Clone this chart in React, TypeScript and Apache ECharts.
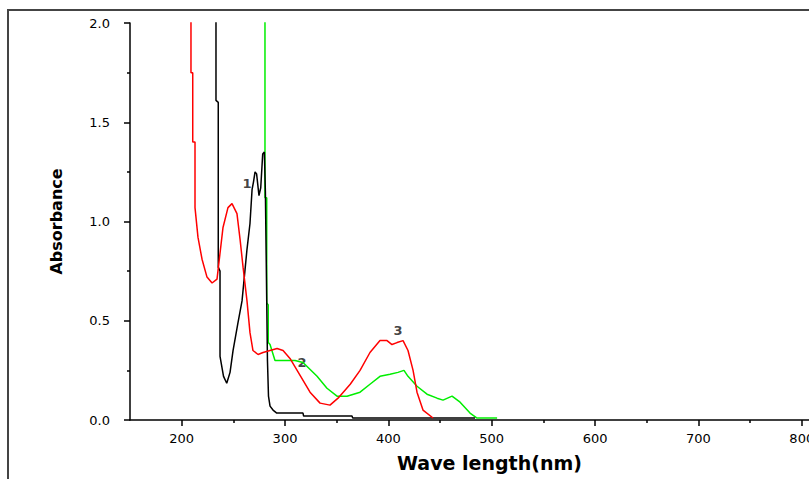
import React, { useEffect, useRef } from "react";
import * as echarts from "echarts";

// Curve 1 (black): [wavelength nm, absorbance]
const curve1: number[][] = [
  [233.2, 2.3], [233.2, 1.61], [235.4, 1.6], [235.4, 0.77], [237.1, 0.75], [237.1, 0.32],
  [240.5, 0.22], [243.6, 0.185], [246.8, 0.24], [249.7, 0.35], [254.5, 0.49], [258.4, 0.6],
  [263.2, 0.86], [266.1, 0.99], [268.1, 1.16], [269.5, 1.2], [271.0, 1.25], [272.5, 1.24],
  [274.8, 1.13], [276.5, 1.17], [278.4, 1.34], [280.0, 1.35], [281.0, 1.15], [282.3, 0.6],
  [283.0, 0.3], [284.0, 0.12], [285.5, 0.07], [288.4, 0.05], [292.0, 0.035], [317.4, 0.035],
  [318.0, 0.02], [364.8, 0.02], [365.5, 0.01], [483.9, 0.01],
];

// Curve 3 (red)
const curve3: number[][] = [
  [209.0, 2.3], [209.0, 1.75], [210.7, 1.75], [210.7, 1.4], [212.9, 1.4], [212.9, 1.07],
  [215.8, 0.92], [219.7, 0.81], [224.5, 0.72], [229.4, 0.69], [234.2, 0.71], [237.1, 0.84],
  [240.0, 0.97], [244.8, 1.07], [248.7, 1.09], [253.5, 1.04], [256.5, 0.91], [259.4, 0.77],
  [263.2, 0.6], [266.1, 0.44], [269.0, 0.35], [273.9, 0.33], [278.7, 0.34], [285.5, 0.35],
  [292.3, 0.36], [298.1, 0.35], [304.8, 0.31], [314.0, 0.23], [324.2, 0.14], [333.9, 0.085],
  [343.5, 0.075], [351.3, 0.11], [363.1, 0.18], [372.6, 0.25], [382.2, 0.34], [391.9, 0.4],
  [398.7, 0.4], [403.5, 0.38], [408.4, 0.39], [414.2, 0.4], [419.0, 0.35], [423.9, 0.25],
  [427.7, 0.14], [433.5, 0.05], [443.2, 0.01],
];

// Curve 2 (green)
const curve2: number[][] = [
  [280.6, 2.3], [280.6, 1.12], [282.3, 1.12], [282.3, 0.59], [283.8, 0.58], [283.8, 0.39],
  [285.5, 0.38], [290.3, 0.3], [309.7, 0.3], [317.4, 0.29], [331.0, 0.22], [340.6, 0.16],
  [350.3, 0.12], [360.0, 0.12], [372.6, 0.14], [382.2, 0.18], [391.9, 0.22], [401.6, 0.23],
  [409.3, 0.24], [415.1, 0.25], [419.0, 0.22], [427.7, 0.17], [437.4, 0.13], [447.1, 0.11],
  [452.9, 0.1], [461.6, 0.12], [469.4, 0.09], [479.0, 0.035], [485.8, 0.01], [505.2, 0.01],
];

// Curve number annotations: [x, y, text]
const curveLabels: (number | string)[][] = [
  [263.2, 1.19, "1"],
  [316.4, 0.29, "2"],
  [409.3, 0.45, "3"],
];

const xMajorTicks = [200, 300, 400, 500, 600, 700, 800];
const xMinorTicks = [250, 350, 450, 550, 650, 750];
const xTitle = "Wave length(nm)";
const yTitle = "Absorbance";

const FONT = "DejaVu Sans";

export default function App() {
  const ref = useRef<HTMLDivElement>(null);
  useEffect(() => {
    if (!ref.current) return;
    const chart = echarts.init(ref.current, undefined, { renderer: "svg" });
    const axisLineStyle = { color: "#000", width: 1.5 };
    chart.setOption({
      animation: false,
      backgroundColor: "#fff",
      grid: {
        left: 130, right: 0, top: 23, bottom: 59,
        containLabel: false, outerBoundsMode: "none",
      },
      graphic: [
        {
          type: "rect",
          shape: { x: 8, y: 10, width: 900, height: 600 },
          style: { fill: "none", stroke: "#444", lineWidth: 2 },
          silent: true,
        },
      ],
      xAxis: [
        {
          type: "value", min: 150, max: 807, position: "bottom",
          splitLine: { show: false },
          axisLine: { show: true, onZero: false, lineStyle: axisLineStyle },
          axisTick: { show: true, length: 3, customValues: xMinorTicks, lineStyle: axisLineStyle },
          axisLabel: {
            show: true, customValues: xMajorTicks, margin: 12,
            fontFamily: FONT, fontSize: 13, color: "#000",
          },
          name: xTitle, nameLocation: "middle", nameGap: 33,
          nameTextStyle: {
            fontFamily: FONT, fontSize: 19, fontWeight: "bold", color: "#000",
            padding: [0, 0, 0, 40],
          },
        },
        {
          type: "value", min: 150, max: 807, position: "bottom", offset: 0,
          splitLine: { show: false },
          axisLine: { show: false, onZero: false },
          axisTick: { show: true, length: 6, customValues: xMajorTicks, lineStyle: axisLineStyle },
          axisLabel: { show: false },
        },
      ],
      yAxis: [
        {
          type: "value", min: 0, max: 2, interval: 0.5, position: "left",
          splitLine: { show: false },
          axisLine: { show: true, onZero: false, lineStyle: axisLineStyle },
          axisTick: { show: true, length: 6, lineStyle: axisLineStyle },
          minorTick: { show: true, splitNumber: 2, length: 3, lineStyle: axisLineStyle },
          axisLabel: {
            margin: 20, fontFamily: FONT, fontSize: 13, color: "#000",
            formatter: (v: number) => v.toFixed(1),
          },
          name: yTitle, nameLocation: "middle", nameGap: 66, nameRotate: 90,
          nameTextStyle: { fontFamily: FONT, fontSize: 16, fontWeight: "bold", color: "#000" },
        },
      ],
      series: [
        {
          type: "line", data: curve2, xAxisIndex: 0, yAxisIndex: 0, showSymbol: false,
          symbol: "none", lineStyle: { color: "#00ee00", width: 1.5 }, clip: true,
        },
        {
          type: "line", data: curve1, xAxisIndex: 0, yAxisIndex: 0, showSymbol: false,
          symbol: "none", lineStyle: { color: "#000", width: 1.5 }, clip: true,
        },
        {
          type: "line", data: curve3, xAxisIndex: 0, yAxisIndex: 0, showSymbol: false,
          symbol: "none", lineStyle: { color: "#ff0000", width: 1.5 }, clip: true,
        },
        {
          type: "scatter", data: curveLabels, xAxisIndex: 0, yAxisIndex: 0,
          symbolSize: 0,
          label: {
            show: true, position: "inside",
            formatter: (p: any) => p.value[2],
            fontFamily: FONT, fontSize: 13, fontWeight: "bold", color: "#111",
          },
        },
      ],
    });
    return () => chart.dispose();
  }, []);
  return (
    <div
      ref={ref}
      style={{ position: "fixed", left: 0, top: 0, width: 809, height: 479, background: "#fff" }}
    />
  );
}
